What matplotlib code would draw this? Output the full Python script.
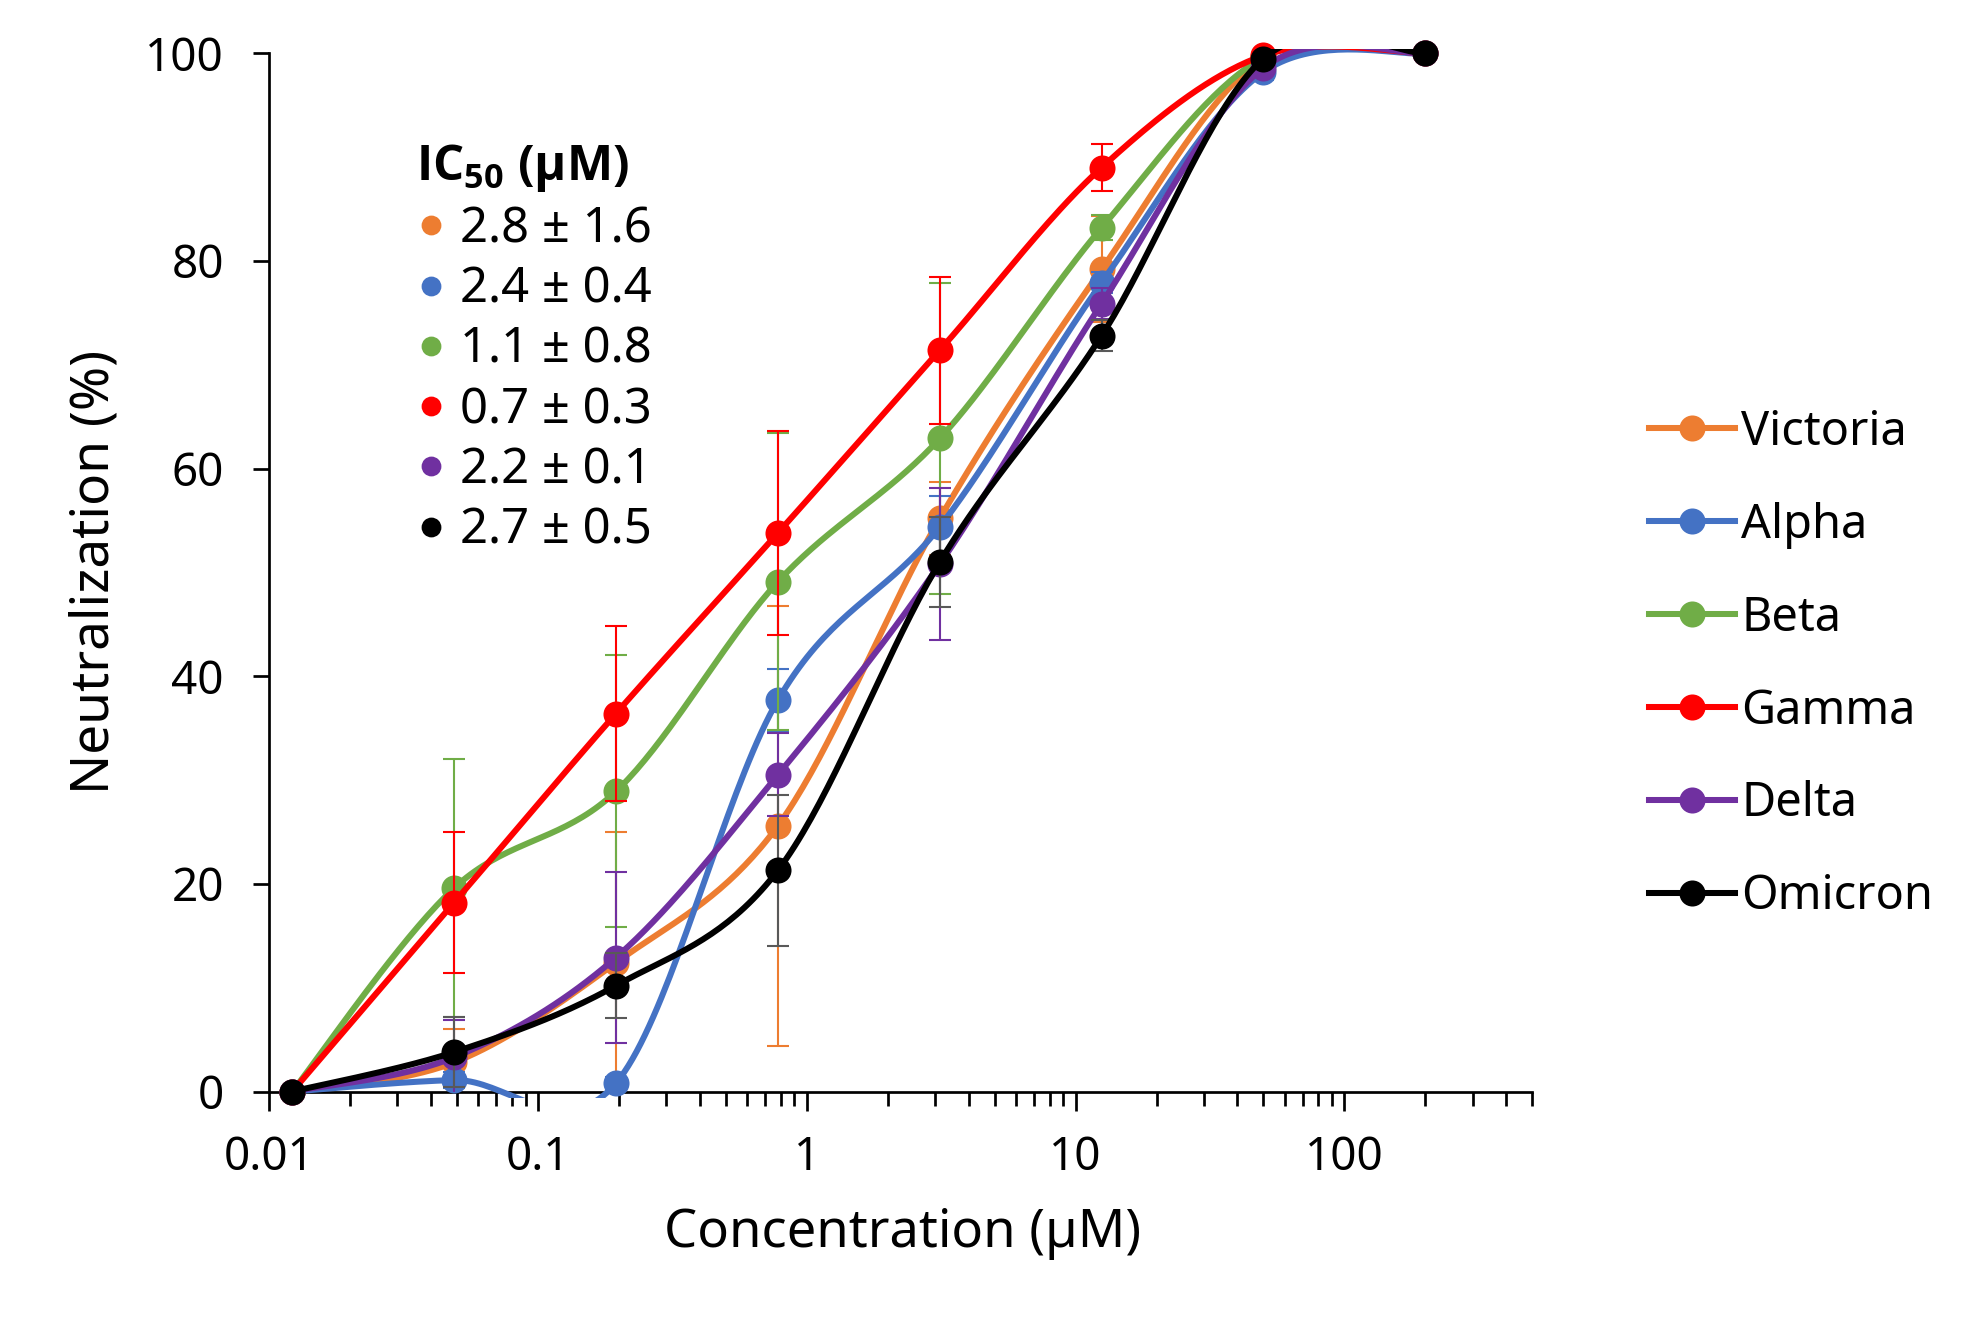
import numpy as np
import matplotlib
matplotlib.use("Agg")
import matplotlib.pyplot as plt
from matplotlib import font_manager
from matplotlib.lines import Line2D
from matplotlib.patches import Rectangle
from matplotlib.ticker import FixedLocator, LogLocator, FuncFormatter, NullFormatter

# ── Data ────────────────────────────────────────────────────────────────────
conc = [0.0122, 0.0488, 0.195, 0.781, 3.125, 12.5, 50, 200]

variants = ["Victoria", "Alpha", "Beta", "Gamma", "Delta", "Omicron"]
ic50_labels = ["2.8 ± 1.6", "2.4 ± 0.4", "1.1 ± 0.8", "0.7 ± 0.3", "2.2 ± 0.1", "2.7 ± 0.5"]

victoria = [0, 2.8, 12.4, 25.6, 55.2, 79.2, 99.6, 100]
victoria_err = [0, 3.2, 12.6, 21.2, 3.5, 5.1, 0.5, 0]
alpha = [0, 1.1, 0.8, 37.7, 54.4, 77.9, 98.2, 100]
alpha_err = [0, 0.8, 0.6, 3.0, 3.0, 1.0, 0.8, 0]
beta = [0, 19.6, 28.9, 49.1, 62.9, 83.2, 99.6, 100]
beta_err = [0, 12.4, 13.1, 14.3, 15.0, 1.2, 0.3, 0]
gamma = [0, 18.2, 36.4, 53.8, 71.4, 89.0, 99.8, 100]
gamma_err = [0, 6.8, 8.4, 9.8, 7.1, 2.3, 0.2, 0]
delta = [0, 3.3, 12.9, 30.5, 50.8, 75.9, 98.6, 100]
delta_err = [0, 3.6, 8.2, 4.0, 7.3, 1.5, 0.5, 0]
omicron = [0, 3.8, 10.2, 21.3, 51.0, 72.8, 99.5, 100]
omicron_err = [0, 3.4, 3.1, 7.3, 4.3, 1.5, 0.4, 0]

values = [victoria, alpha, beta, gamma, delta, omicron]
errors = [victoria_err, alpha_err, beta_err, gamma_err, delta_err, omicron_err]
colors = ["#ED7D31", "#4472C4", "#70AD47", "#FF0000", "#7030A0", "#000000"]
err_colors = ["#ED7D31", "#4472C4", "#70AD47", "#FF0000", "#7030A0", "#595959"]


# ── Fonts ───────────────────────────────────────────────────────────────────
def has_bold(name):
    for f in font_manager.fontManager.ttflist:
        if f.name != name:
            continue
        w = f.weight
        if isinstance(w, str):
            w = font_manager.weight_dict.get(w, 400)
        if w >= 600:
            return True
    return False


BOLD_FAMILY = next((n for n in ["Noto Sans", "Open Sans", "Lato", "Roboto", "Inter", "DejaVu Sans"]
                    if has_bold(n)), "DejaVu Sans")

plt.rcParams["font.family"] = ["Noto Sans", "DejaVu Sans"]
# the only mathtext in the figure is the bold IC50 title
plt.rcParams["mathtext.fontset"] = "custom"
plt.rcParams["mathtext.rm"] = f"{BOLD_FAMILY}:bold"
plt.rcParams["mathtext.bf"] = f"{BOLD_FAMILY}:bold"
plt.rcParams["mathtext.default"] = "bf"


def excel_smooth(x, y, n=40):
    """Catmull-Rom style bezier smoothing (like Excel 'smoothed line'), in log-x space."""
    u = np.log10(np.asarray(x, float))
    v = np.asarray(y, float)
    pts = np.column_stack([u, v])
    out = []
    t = np.linspace(0, 1, n)[:, None]
    for i in range(len(pts) - 1):
        p0 = pts[i - 1] if i > 0 else pts[i]
        p1, p2 = pts[i], pts[i + 1]
        p3 = pts[i + 2] if i + 2 < len(pts) else pts[i + 1]
        b1 = p1 + (p2 - p0) / 6
        b2 = p2 - (p3 - p1) / 6
        seg = ((1 - t) ** 3) * p1 + 3 * ((1 - t) ** 2) * t * b1 + 3 * (1 - t) * t ** 2 * b2 + t ** 3 * p2
        out.append(seg if i == 0 else seg[1:])
    out = np.vstack(out)
    return 10 ** out[:, 0], out[:, 1]


fig = plt.figure(figsize=(13.2, 8.8), dpi=150)
ax = fig.add_axes([0.1359, 0.1731, 0.638, 0.7865])

# plot-area clip, a little looser than the axes box (as in Excel)
clip = Rectangle((0, -0.006), 1, 1.010, transform=ax.transAxes, visible=False)

for i, (yv, ye, c, ec) in enumerate(zip(values, errors, colors, err_colors)):
    z = 3 + i
    ax.errorbar(conc, yv, yerr=ye, fmt="none", ecolor=ec, elinewidth=1.0,
                capsize=5.2, capthick=1.0, zorder=z)
    xs, ys = excel_smooth(conc, yv)
    ln, = ax.plot(xs, ys, color=c, lw=2.9, solid_capstyle="round", zorder=z + 0.1)
    ln.set_clip_path(clip)
    ax.plot(conc, yv, ls="none", marker="o", ms=11.5, color=c, zorder=z + 0.2, clip_on=False)

ax.set_xscale("log")
ax.set_xlim(0.01, 500)
ax.set_ylim(0, 100)
ax.set_yticks([0, 20, 40, 60, 80, 100])
ax.xaxis.set_major_locator(FixedLocator([0.01, 0.1, 1, 10, 100]))
ax.xaxis.set_minor_locator(LogLocator(base=10, subs=np.arange(2, 10), numticks=20))
ax.xaxis.set_major_formatter(FuncFormatter(lambda v, p: f"{v:g}"))
ax.xaxis.set_minor_formatter(NullFormatter())

for s in ["top", "right"]:
    ax.spines[s].set_visible(False)
for s in ["left", "bottom"]:
    ax.spines[s].set_linewidth(1.3)

ax.tick_params(axis="y", which="major", direction="out", length=7.7, width=1.3,
               labelsize=22, pad=14)
ax.tick_params(axis="x", which="major", direction="out", length=8.9, width=1.3,
               labelsize=22, pad=12)
ax.tick_params(axis="x", which="minor", direction="out", length=6.5, width=1.3)

fig.text(711 / 1560, 1 - 972 / 1040, "Concentration (µM)", fontsize=25.2,
         ha="center", va="center")
fig.text(75 / 1560, 1 - 451 / 1040, "Neutralization (%)", fontsize=25.5,
         ha="center", va="center", rotation=90)

# IC50 legend (markers only)
ic_handles = [Line2D([], [], ls="none", marker="o", ms=8.5, color=c) for c in colors]
leg1 = ax.legend(ic_handles, ic50_labels, loc="upper left",
                 bbox_to_anchor=(328 / 1560, 1 - 112 / 1040), bbox_transform=fig.transFigure,
                 frameon=False, fontsize=23.5, title="IC$_{50}$ (µM)",
                 title_fontproperties={"family": BOLD_FAMILY, "weight": "bold", "size": 23.5},
                 handlelength=0.6, handletextpad=0.3, labelspacing=0.21,
                 borderpad=0, borderaxespad=0, alignment="left")
ax.add_artist(leg1)

# Variant legend
var_handles = [Line2D([], [], color=c, lw=2.9, marker="o", ms=11.5) for c in colors]
ax.legend(var_handles, variants, loc="upper left",
          bbox_to_anchor=(1299 / 1560, 1 - 322 / 1040), bbox_transform=fig.transFigure,
          frameon=False, fontsize=22.5, handlelength=1.85, handletextpad=0.12,
          labelspacing=0.98, borderpad=0, borderaxespad=0)

fig.savefig("out.png", dpi=150)
